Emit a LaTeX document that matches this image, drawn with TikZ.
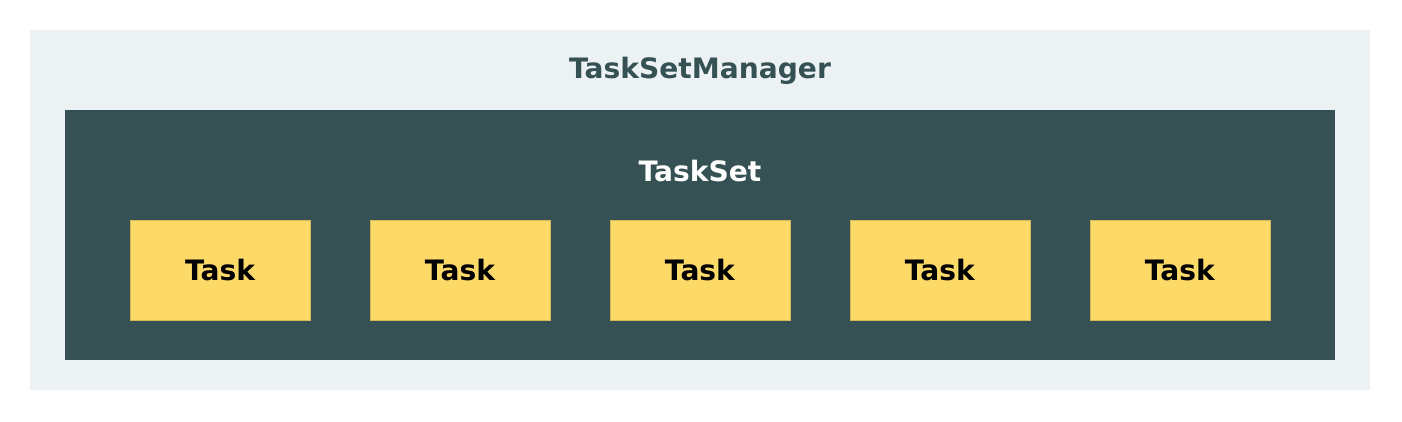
\documentclass[tikz,border=0pt]{standalone}
\usepackage{fontspec}
\setmainfont{DejaVu Sans}
\usetikzlibrary{positioning}
\definecolor{mgrbg}{HTML}{ECF1F4}
\definecolor{setbg}{HTML}{355154}
\definecolor{taskbg}{HTML}{FDD968}
\tikzset{taskbox/.style={fill=taskbg,draw=taskbg!85!black,line width=0.3pt,outer sep=0pt,minimum width=3.6cm,minimum height=2cm,inner sep=0pt,font=\fontsize{16}{18}\selectfont\bfseries,text=black}}
\begin{document}
\begin{tikzpicture}[x=0.02cm,y=-0.02cm]
  \useasboundingbox (0,0) rectangle (1402,422);
  \fill[mgrbg] (30,30) rectangle (1370,390);
  \fill[setbg] (65,110) rectangle (1335,360);
  \node[font=\fontsize{16}{18}\selectfont\bfseries,text=setbg] (mgr) at (700,71) {TaskSetManager};
  \node[font=\fontsize{16}{18}\selectfont\bfseries,text=white] (set) at (700,171) {TaskSet};
  \node[taskbox] (t1) at (220,270) {Task};
  \node[taskbox,right=1.2cm of t1] (t2) {Task};
  \node[taskbox,right=1.2cm of t2] (t3) {Task};
  \node[taskbox,right=1.2cm of t3] (t4) {Task};
  \node[taskbox,right=1.2cm of t4] (t5) {Task};
\end{tikzpicture}
\end{document}
